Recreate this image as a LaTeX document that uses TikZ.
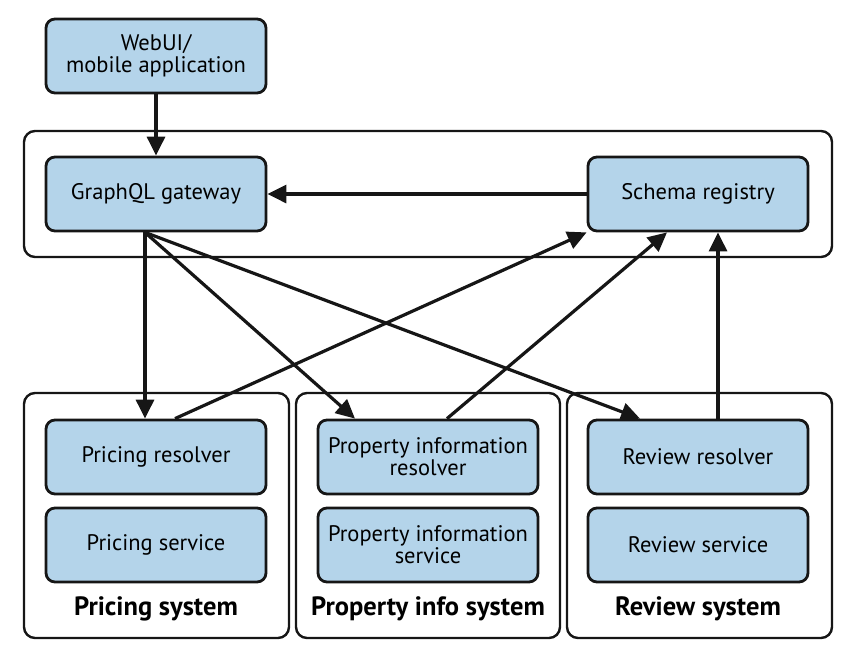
\documentclass[tikz,border=0pt]{standalone}
\usepackage{fontspec}
\setmainfont{PT Sans}
\usetikzlibrary{arrows.meta,calc}

\definecolor{boxblue}{RGB}{180,212,234}
\definecolor{inkdark}{RGB}{22,22,22}

\tikzset{
  comp/.style={draw=inkdark, fill=boxblue, rounded corners=9pt, line width=2.8pt,
    minimum width=220pt, minimum height=74pt, align=center,
    font=\fontsize{22.5}{22}\selectfont, inner sep=0pt},
  frame/.style={draw=inkdark, rounded corners=11pt, line width=2.4pt},
  syslabel/.style={font=\fontsize{26.5}{28}\selectfont\bfseries},
  link/.style={line width=3.2pt, draw=inkdark, -{Triangle[length=19pt,width=18pt]}}
}

\begin{document}
\begin{tikzpicture}[x=1pt,y=-1pt]
    \useasboundingbox (0,0) rectangle (856,662);

    % outer frames
    \draw[frame] (24,131) rectangle (832,257);
    \draw[frame] (24,393) rectangle (289,638);
    \draw[frame] (296,393) rectangle (560,638);
    \draw[frame] (567,393) rectangle (832,638);

    % components
    \node[comp] (web) at (156,56) {WebUI/\\mobile application};
    \node[comp] (gw) at (156,194) {GraphQL gateway};
    \node[comp] (reg) at (698,194) {Schema registry};

    \node[comp] (pres) at (156,457) {Pricing resolver};
    \node[comp] (psvc) at (156,545) {Pricing service};
    \node[comp] (ires) at (428,457) {Property information\\resolver};
    \node[comp] (isvc) at (428,545) {Property information\\service};
    \node[comp] (rres) at (698,457) {Review resolver};
    \node[comp] (rsvc) at (698,545) {Review service};

    \node[syslabel] (psys) at (156,609) {Pricing system};
    \node[syslabel] (isys) at (428,609) {Property info system};
    \node[syslabel] (rsys) at (698,609) {Review system};

    % connectors
    \draw[link] (web) -- (gw);
    \draw[link] (reg) -- (gw);
    \draw[link] ($(gw.south)+(-11,0)$) -- ($(pres.north)+(-11,0)$);
    \draw[link] ($(gw.south)+(-11,0)$) -- ($(ires.north)+(-73,0)$);
    \draw[link] ($(gw.south)+(-11,0)$) -- ($(rres.north)+(-58,0)$);

    \draw[link] ($(pres.north)+(19,0)$) -- (reg.south west);
    \draw[link] ($(ires.north)+(19,0)$) -- ($(reg.south)+(-31,0)$);
    \draw[link] ($(rres.north)+(20,0)$) -- ($(reg.south)+(20,0)$);
\end{tikzpicture}
\end{document}
